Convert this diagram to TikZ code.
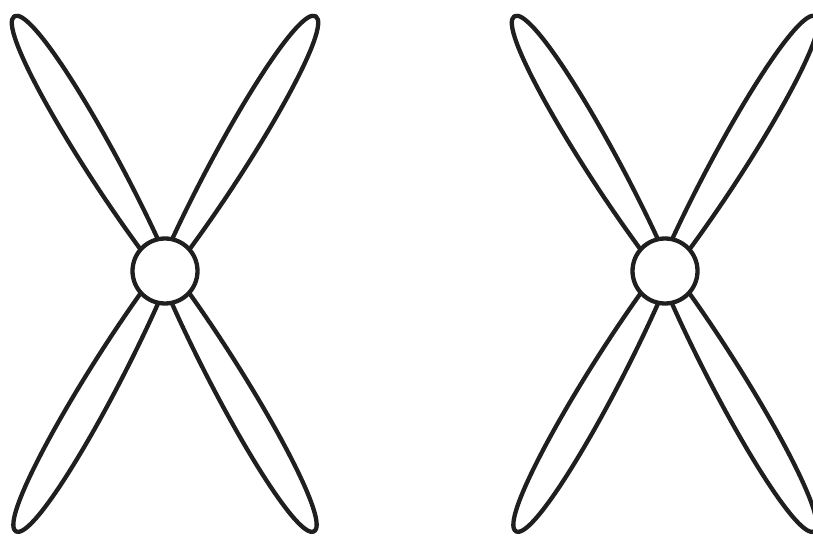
\documentclass[tikz,border=0pt]{standalone}
\usepackage{tikz}

\begin{document}
\begin{tikzpicture}[x=1pt,y=1pt,line width=4.3pt,line join=round,
  petal/.style={draw=black!88}]
  \path[use as bounding box,clip] (0,0) rectangle (813,538);
  \coordinate (hubA) at (165,267);
  \coordinate (hubB) at (665,267);
  \foreach \hub in {hubA,hubB} {
    \draw[petal] (\hub) circle (32.5);
    \foreach \ang/\len in {120.6/296,59.4/296,240.2/300,299.8/300} {
      \begin{scope}[shift={(\hub)},rotate=\ang]
        \draw[petal] (18:32.5) .. controls (150,22) and (\len,20) .. (\len,0)
          .. controls (\len,-20) and (150,-22) .. (-18:32.5);
      \end{scope}
    }
  }
\end{tikzpicture}
\end{document}
